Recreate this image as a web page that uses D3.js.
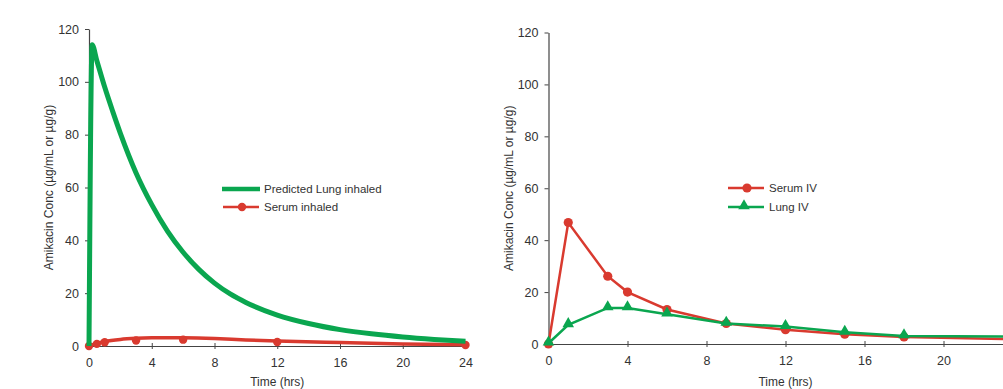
<!DOCTYPE html>
<html>
<head>
<meta charset="utf-8">
<script src="https://cdn.jsdelivr.net/npm/d3@7"></script>
<style>
  body { margin: 0; background: #fff; }
  text { font-family: "Liberation Sans", Arial, sans-serif; fill: #333; }
</style>
</head>
<body>
<div id="chart"></div>
<script>
// ---- data ----
const xTicksLeft = [0, 4, 8, 12, 16, 20, 24];
const xTicksRight = [0, 4, 8, 12, 16, 20]; // 24 falls outside the picture
const yTicks = [0, 20, 40, 60, 80, 100, 120];

// left panel: inhaled
const lungInhaledTime = [0, 0.2, 0.5, 1, 1.5, 2, 3, 4, 5, 6, 7, 8, 9, 10, 12, 14, 16, 18, 20, 22, 24];
const lungInhaledConc = [0, 114, 108, 98, 89, 80.5, 65.5, 53.5, 43.5, 35.5, 29, 23.8, 19.7, 16.5, 11.7, 8.5, 6.2, 4.6, 3.4, 2.5, 1.8];

const serumInhaledFitTime = [0, 0.5, 1, 2, 3, 4, 5, 6, 8, 10, 12, 16, 20, 24];
const serumInhaledFitConc = [0, 1.0, 1.7, 2.5, 2.9, 3.1, 3.15, 3.1, 2.8, 2.3, 1.9, 1.3, 0.8, 0.5];
const serumInhaledTime = [0, 0.5, 1, 3, 6, 12, 24];
const serumInhaledConc = [0, 0.8, 1.4, 2.1, 2.4, 1.5, 0.4];

// right panel: IV
const ivTime = [0, 1, 3, 4, 6, 9, 12, 15, 18, 24];
const serumIV = [0, 46.8, 26.1, 20, 13.3, 7.9, 5.5, 3.8, 2.7, 1.8];
const lungIV = [0.3, 7.4, 13.9, 13.9, 11.5, 7.9, 6.7, 4.5, 3.1, 2.9];

const green = "#0aa64f";
const red = "#d93a2f";

const svg = d3.select("#chart")
  .append("svg")
  .attr("width", 1003)
  .attr("height", 389);

function drawPanel(p) {
  const x = d3.scaleLinear().domain([0, 24]).range([p.left, p.right]);
  const y = d3.scaleLinear().domain([0, 120]).range([p.bottom, p.top]);
  const g = svg.append("g");

  // x axis, ticks cross the line
  const xa = g.append("g")
    .attr("transform", `translate(0,${p.bottom})`)
    .call(d3.axisBottom(x).tickValues(p.xTicks).tickSize(3).tickPadding(9));
  xa.selectAll(".tick line").attr("y1", -3).attr("y2", 3).attr("stroke", "#444");
  xa.select(".domain").attr("stroke", "#444").attr("stroke-width", 1.2);
  xa.selectAll("text").style("font-size", "12.5px").style("fill", "#333");

  const ya = g.append("g")
    .attr("transform", `translate(${p.left},0)`)
    .call(d3.axisLeft(y).tickValues(yTicks).tickSize(4).tickSizeOuter(0).tickPadding(6));
  ya.selectAll(".tick line").attr("stroke", "#444");
  ya.select(".domain").attr("stroke", "#444").attr("stroke-width", 1.2);
  ya.selectAll("text").style("font-size", "12.5px").style("fill", "#333");

  g.append("text")
    .attr("transform", `translate(${p.left - 36},${(p.top + p.bottom) / 2}) rotate(-90)`)
    .attr("text-anchor", "middle")
    .style("font-size", "12px")
    .text("Amikacin Conc (µg/mL or µg/g)");

  g.append("text")
    .attr("x", x(12))
    .attr("y", 386)
    .attr("text-anchor", "middle")
    .style("font-size", "12px")
    .text("Time (hrs)");

  return {x, y, g};
}

// ---- left panel ----
const L = drawPanel({left: 89, right: 465.5, top: 29, bottom: 346, xTicks: xTicksLeft});

L.g.append("path")
  .datum(d3.zip(serumInhaledFitTime, serumInhaledFitConc))
  .attr("d", d3.line().x(d => L.x(d[0])).y(d => L.y(d[1])).curve(d3.curveMonotoneX))
  .attr("fill", "none").attr("stroke", red).attr("stroke-width", 3.5);

L.g.selectAll("circle.si")
  .data(d3.zip(serumInhaledTime, serumInhaledConc))
  .join("circle")
  .attr("cx", d => L.x(d[0]))
  .attr("cy", d => L.y(d[1]))
  .attr("r", 4.2)
  .attr("fill", red);

L.g.append("path")
  .datum(d3.zip(lungInhaledTime, lungInhaledConc))
  .attr("d", d3.line().x(d => L.x(d[0])).y(d => L.y(d[1])).curve(d3.curveMonotoneX))
  .attr("fill", "none").attr("stroke", green).attr("stroke-width", 5);

// left legend
const l1 = svg.append("g").attr("transform", "translate(222,189)");
l1.append("line").attr("x1", 0).attr("x2", 38).attr("stroke", green).attr("stroke-width", 4.5);
l1.append("text").attr("x", 42).attr("y", 4).style("font-size", "11.5px").text("Predicted Lung inhaled");
const l2 = svg.append("g").attr("transform", "translate(222,207)");
l2.append("line").attr("x1", 1).attr("x2", 37).attr("stroke", red).attr("stroke-width", 2.5);
l2.append("circle").attr("cx", 20).attr("r", 4.2).attr("fill", red);
l2.append("text").attr("x", 42).attr("y", 4).style("font-size", "11.5px").text("Serum inhaled");

// ---- right panel ----
const R = drawPanel({left: 548.5, right: 1022.5, top: 32.5, bottom: 344, xTicks: xTicksRight});

const ivLine = d3.line().x(d => R.x(d[0])).y(d => R.y(d[1]));
const tri = d3.symbol().type(d3.symbolTriangle).size(58);

R.g.append("path")
  .datum(d3.zip(ivTime, serumIV))
  .attr("d", ivLine)
  .attr("fill", "none").attr("stroke", red).attr("stroke-width", 2.5);

R.g.selectAll("circle.siv")
  .data(d3.zip(ivTime, serumIV))
  .join("circle")
  .attr("cx", d => R.x(d[0]))
  .attr("cy", d => R.y(d[1]))
  .attr("r", 4.6)
  .attr("fill", red);

R.g.append("path")
  .datum(d3.zip(ivTime, lungIV))
  .attr("d", ivLine)
  .attr("fill", "none").attr("stroke", green).attr("stroke-width", 2.5);

R.g.selectAll("path.liv")
  .data(d3.zip(ivTime, lungIV))
  .join("path")
  .attr("class", "liv")
  .attr("d", tri)
  .attr("transform", d => `translate(${R.x(d[0])},${R.y(d[1]) - 1})`)
  .attr("fill", green);

// right legend
const r1 = svg.append("g").attr("transform", "translate(728,188)");
r1.append("line").attr("x1", 0).attr("x2", 36).attr("stroke", red).attr("stroke-width", 2.5);
r1.append("circle").attr("cx", 19).attr("r", 4.6).attr("fill", red);
r1.append("text").attr("x", 41).attr("y", 4).style("font-size", "11.5px").text("Serum IV");
const r2 = svg.append("g").attr("transform", "translate(728,207)");
r2.append("line").attr("x1", 0).attr("x2", 36).attr("stroke", green).attr("stroke-width", 2.5);
r2.append("path").attr("d", tri).attr("transform", "translate(16,-1)").attr("fill", green);
r2.append("text").attr("x", 41).attr("y", 4).style("font-size", "11.5px").text("Lung IV");
</script>
</body>
</html>
